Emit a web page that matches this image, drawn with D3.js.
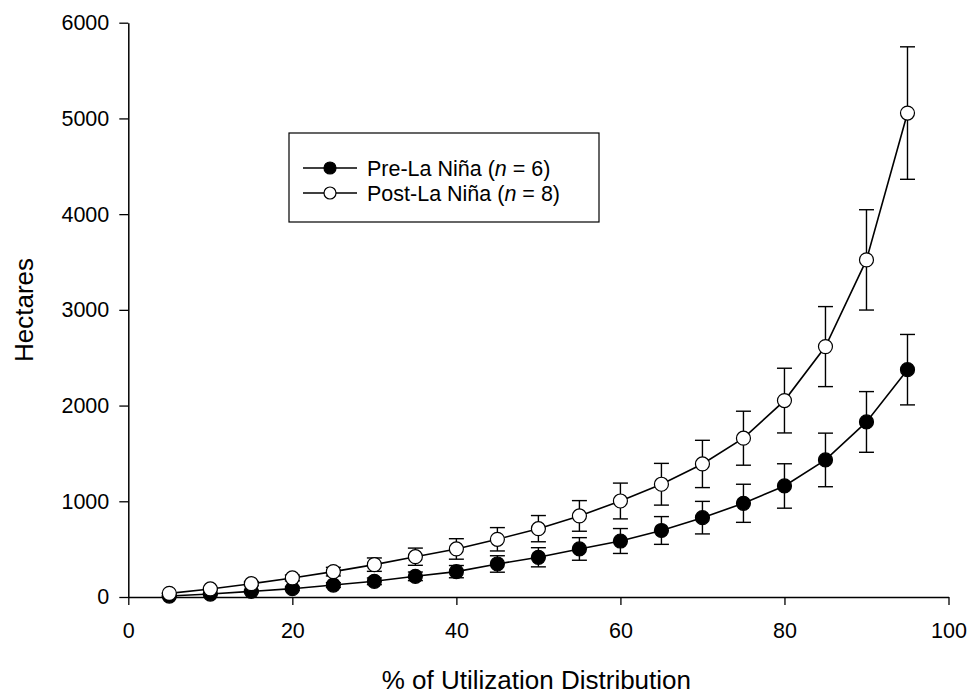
<!DOCTYPE html>
<html>
<head>
<meta charset="utf-8">
<script src="https://cdn.jsdelivr.net/npm/d3@7"></script>
<style>
  body { margin: 0; background: #fff; }
  text { font-family: "Liberation Sans", Arial, sans-serif; fill: #000; }
</style>
</head>
<body>
<div id="chart"></div>
<script>
// % of utilization distribution (isopleth)
const udPercent = [5, 10, 15, 20, 25, 30, 35, 40, 45, 50, 55, 60, 65, 70, 75, 80, 85, 90, 95]

// Pre-La Nina (n = 6), hectares, mean and SE
const preMean = [10, 31, 59, 87, 125, 164, 216, 265, 345, 415, 502, 585, 695, 829, 979, 1160, 1432, 1829, 2375]
const preSE   = [3, 8, 12, 18, 25, 35, 45, 64, 86, 100, 118, 130, 145, 170, 199, 232, 280, 317, 368]

// Post-La Nina (n = 8)
const postMean = [38, 84, 139, 199, 265, 338, 421, 502, 603, 714, 847, 1003, 1178, 1390, 1659, 2052, 2616, 3522, 5056]
const postSE   = [5, 10, 20, 30, 45, 70, 90, 107, 122, 137, 160, 187, 218, 247, 282, 338, 418, 524, 692]

const xTicks = [0, 20, 40, 60, 80, 100]
const yTicks = [0, 1000, 2000, 3000, 4000, 5000, 6000]

const seriesNames = ["Pre-La Niña", "Post-La Niña"]
const seriesN = [6, 8]

const dimensions = ({
  width: 972,
  height: 694,
  margin: { top: 22.7, right: 23.5, bottom: 97, left: 128.3 }
})

const innerW = dimensions.width - dimensions.margin.left - dimensions.margin.right
const innerH = dimensions.height - dimensions.margin.top - dimensions.margin.bottom

const x = d3.scaleLinear().domain([0, 100]).range([0, innerW])
const y = d3.scaleLinear().domain([0, 6000]).range([innerH, 0])

const svg = d3.select("#chart")
  .append("svg")
    .attr("width", dimensions.width)
    .attr("height", dimensions.height)
  .append("g")
    .attr("transform", "translate(" + dimensions.margin.left + "," + dimensions.margin.top + ")")

// axes
const xAxis = svg.append("g")
  .attr("transform", "translate(0," + innerH + ")")
  .call(d3.axisBottom(x).tickValues(xTicks).tickFormat(d3.format("d")).tickSize(8).tickPadding(18).tickSizeOuter(0))
const yAxis = svg.append("g")
  .call(d3.axisLeft(y).tickValues(yTicks).tickFormat(d3.format("d")).tickSize(9).tickPadding(10).tickSizeOuter(0))

;[xAxis, yAxis].forEach(a => {
  a.select(".domain").attr("stroke", "#000").attr("stroke-width", 1.5)
  a.selectAll(".tick line").attr("stroke", "#000").attr("stroke-width", 1.3)
  a.selectAll(".tick text")
    .style("font-family", '"Liberation Sans", Arial, sans-serif')
    .style("font-size", "21.5px")
    .attr("fill", "#000")
})

// axis titles
svg.append("text")
  .attr("x", x(50) - 2)
  .attr("y", innerH + 92)
  .attr("text-anchor", "middle")
  .style("font-size", "26px")
  .text("% of Utilization Distribution")

svg.append("text")
  .attr("transform", "translate(" + (33 - dimensions.margin.left) + "," + (310 - dimensions.margin.top) + ") rotate(-90)")
  .attr("text-anchor", "middle")
  .style("font-size", "26px")
  .text("Hectares")

const series = [
  { mean: preMean, se: preSE, fill: "#000" },
  { mean: postMean, se: postSE, fill: "#fff" }
]

const line = d3.line()
  .x((d, i) => x(udPercent[i]))
  .y(d => y(d))

const capHalf = 7.5

series.forEach(s => {
  const g = svg.append("g")

  // error bars
  const eb = g.append("g").selectAll("g")
    .data(s.mean)
    .enter().append("g")
      .attr("stroke", "#000")
      .attr("stroke-width", 1.4)
  eb.append("line")
    .attr("x1", (d, i) => x(udPercent[i]))
    .attr("x2", (d, i) => x(udPercent[i]))
    .attr("y1", (d, i) => y(d + s.se[i]))
    .attr("y2", (d, i) => y(d - s.se[i]))
  eb.append("line")
    .attr("x1", (d, i) => x(udPercent[i]) - capHalf)
    .attr("x2", (d, i) => x(udPercent[i]) + capHalf)
    .attr("y1", (d, i) => y(d + s.se[i]))
    .attr("y2", (d, i) => y(d + s.se[i]))
  eb.append("line")
    .attr("x1", (d, i) => x(udPercent[i]) - capHalf)
    .attr("x2", (d, i) => x(udPercent[i]) + capHalf)
    .attr("y1", (d, i) => y(d - s.se[i]))
    .attr("y2", (d, i) => y(d - s.se[i]))

  // connecting line
  g.append("path")
    .datum(s.mean)
    .attr("fill", "none")
    .attr("stroke", "#000")
    .attr("stroke-width", 1.6)
    .attr("d", line)

  // markers
  g.append("g").selectAll("circle")
    .data(s.mean)
    .enter().append("circle")
      .attr("cx", (d, i) => x(udPercent[i]))
      .attr("cy", d => y(d))
      .attr("r", 7)
      .attr("fill", s.fill)
      .attr("stroke", "#000")
      .attr("stroke-width", 1.2)
})

//======================================================
//                     LEGEND
//======================================================
const legend = svg.append("g")
  .attr("transform", "translate(" + (289 - dimensions.margin.left) + "," + (133 - dimensions.margin.top) + ")")

legend.append("rect")
  .attr("width", 310)
  .attr("height", 89)
  .attr("fill", "#fff")
  .attr("stroke", "#000")
  .attr("stroke-width", 1.2)

const legendRows = legend.selectAll("g.row")
  .data(series)
  .enter().append("g")
    .attr("class", "row")
    .attr("transform", (d, i) => "translate(0," + (35 + i * 25) + ")")

legendRows.append("line")
  .attr("x1", 14).attr("x2", 68)
  .attr("stroke", "#000").attr("stroke-width", 1.6)

legendRows.append("circle")
  .attr("cx", 41).attr("r", 6)
  .attr("fill", d => d.fill)
  .attr("stroke", "#000").attr("stroke-width", 1.2)

const legendText = legendRows.append("text")
  .attr("x", 78)
  .attr("dy", 7.5)
  .style("font-size", "21.5px")

legendText.append("tspan").text((d, i) => seriesNames[i] + " (")
legendText.append("tspan").style("font-style", "italic").text("n")
legendText.append("tspan").text((d, i) => " = " + seriesN[i] + ")")
</script>
</body>
</html>
